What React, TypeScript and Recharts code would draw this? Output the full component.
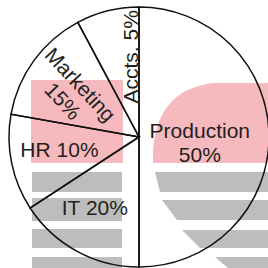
import React from "react";
import { PieChart, Pie, Cell } from "recharts";

// Departments, in clockwise order from 12 o'clock
const departments = ["Production", "IT", "HR", "Marketing", "Accts."];
// Printed percentages
const percentLabels = ["50%", "20%", "10%", "15%", "5%"];
// Slice sizes as drawn in the picture (the sketch is not to scale)
const drawnShares = [50, 15.8, 12, 14.4, 7.8];

const data = departments.map((name, i) => ({ name, value: drawnShares[i], pct: percentLabels[i] }));

// label placement per slice: radius ratio, angle nudge, rotation, two lines or one
const labelLayout = [
  { ratio: 0.47, shift: -5.6, rotate: 0, split: true },
  { ratio: 0.64, shift: -3.6, rotate: 0, split: false },
  { ratio: 0.62, shift: -2.2, rotate: 0, split: false },
  { ratio: 0.62, shift: 3, rotate: 47, split: true },
  { ratio: 0.62, shift: -8, rotate: -90, split: false },
];

const RADIAN = Math.PI / 180;
const FONT = 21;
const LINE = 24;

const renderLabel = (props: any) => {
  const { cx, cy, midAngle, outerRadius, index } = props;
  const lay = labelLayout[index];
  const ang = (midAngle + lay.shift) * RADIAN;
  const r = outerRadius * lay.ratio;
  const x = cx + r * Math.cos(-ang);
  const y = cy + r * Math.sin(-ang);
  const lines = lay.split
    ? [departments[index], percentLabels[index]]
    : [departments[index] + " " + percentLabels[index]];
  return (
    <text
      x={x}
      y={y}
      textAnchor="middle"
      fill="#231f20"
      fontSize={FONT}
      fontFamily="'Liberation Sans', Arial, sans-serif"
      transform={`rotate(${lay.rotate}, ${x}, ${y})`}
    >
      {lines.map((t, i) => (
        <tspan key={i} x={x} dy={i === 0 ? -((lines.length - 1) / 2) * LINE + 7 : LINE}>
          {t}
        </tspan>
      ))}
    </text>
  );
};

// faint logo watermark behind the pie
const Watermark = () => (
  <svg width={268} height={268} style={{ position: "absolute", left: 0, top: 0 }}>
    <rect x={31} y={80} width={92} height={83} fill="#f6b9bd" />
    <rect x={32} y={172} width={90} height={20} fill="#bdbdbd" />
    <rect x={32} y={198} width={90} height={23} fill="#bdbdbd" />
    <rect x={32} y={229} width={90} height={19} fill="#bdbdbd" />
    <rect x={32} y={257} width={90} height={11} fill="#bdbdbd" />
    <path d="M153,163 L153,150 Q158,88 215,83 L268,83 L268,163 Z" fill="#f6b9bd" />
    <path d="M155,172 L268,172 L268,192 L160,192 Z" fill="#bdbdbd" />
    <path d="M162,200 L268,200 L268,220 L177,220 Z" fill="#bdbdbd" />
    <path d="M182,230 L268,230 L268,248 L200,248 Z" fill="#bdbdbd" />
    <path d="M215,257 L268,257 L268,268 L228,268 Z" fill="#bdbdbd" />
  </svg>
);

export default function App() {
  return (
    <div style={{ position: "fixed", left: 0, top: 0, width: 268, height: 268, background: "#fff", overflow: "hidden" }}>
      <Watermark />
      <div style={{ position: "absolute", left: 0, top: 0 }}>
        <PieChart width={268} height={268} margin={{ top: 0, right: 0, bottom: 0, left: 0 }}>
          <Pie
            data={data}
            dataKey="value"
            nameKey="name"
            cx={139}
            cy={137}
            outerRadius={130}
            startAngle={90}
            endAngle={-270}
            stroke="#111"
            strokeWidth={1.5}
            label={renderLabel}
            labelLine={false}
            isAnimationActive={false}
          >
            {data.map((d) => (
              <Cell key={d.name} fill="none" />
            ))}
          </Pie>
        </PieChart>
      </div>
    </div>
  );
}
